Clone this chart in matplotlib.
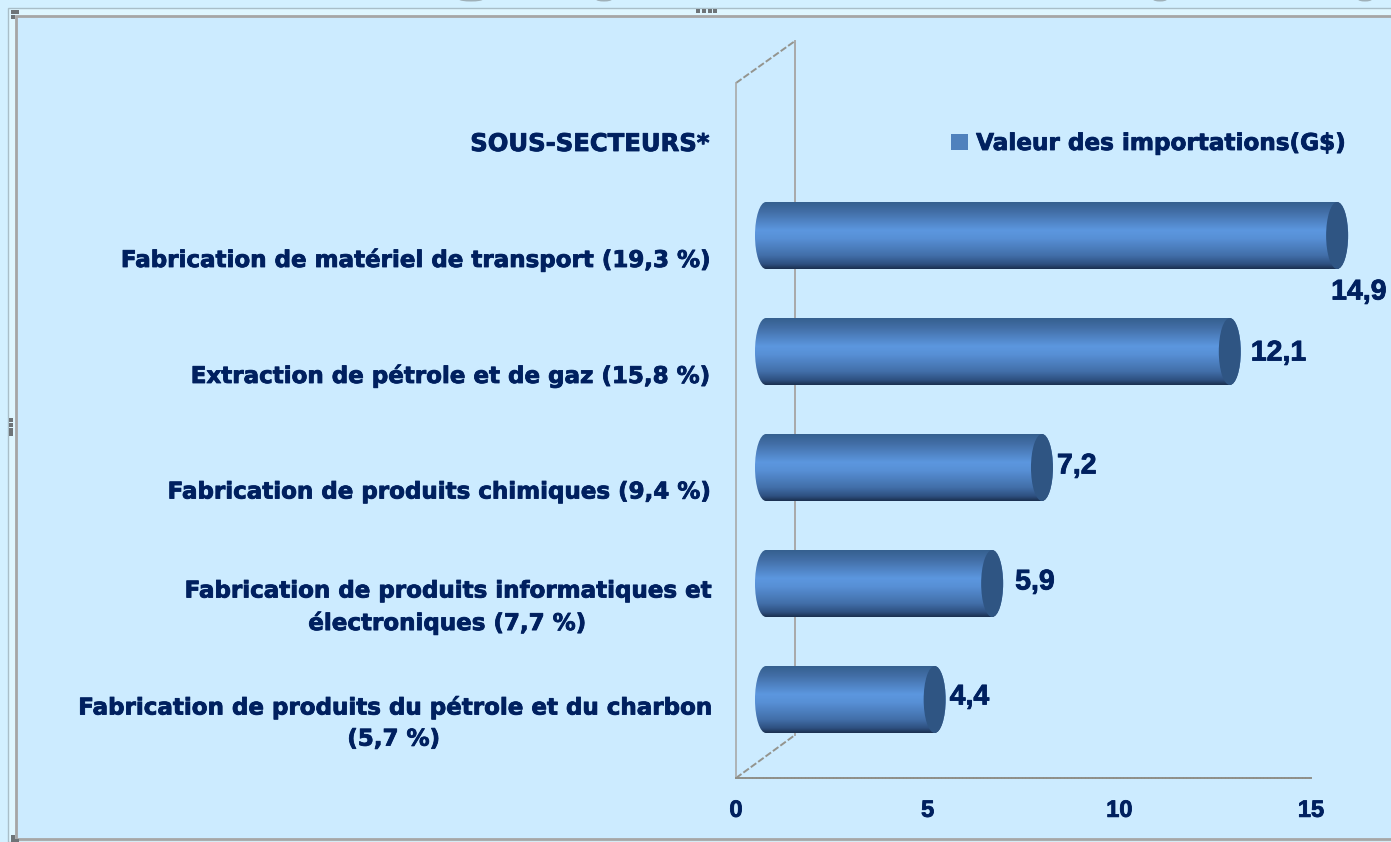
import numpy as np
import matplotlib
matplotlib.use("Agg")
import matplotlib.pyplot as plt
import matplotlib.patheffects as pe
from matplotlib.patches import Ellipse, PathPatch, Rectangle, Patch
from matplotlib.path import Path
from matplotlib.colors import LinearSegmentedColormap
from matplotlib.lines import Line2D
from matplotlib.transforms import ScaledTranslation

categories = ["SOUS-SECTEURS*",
              "Fabrication de matériel de transport (19,3 %)",
              "Extraction de pétrole et de gaz (15,8 %)",
              "Fabrication de produits chimiques (9,4 %)",
              "Fabrication de produits informatiques et\nélectroniques (7,7 %)",
              "Fabrication de produits du pétrole et du charbon\n(5,7 %)"]
values = [None, 14.9, 12.1, 7.2, 5.9, 4.4]
labels = ["", "14,9", "12,1", "7,2", "5,9", "4,4"]
series_name = "Valeur des importations(G$)"
xticks = [0, 5, 10, 15]

# label offsets from the end of each bar, in pixels
label_dx = [0, -6, 21, 15, 23, 15]
label_dy = [0, 57, 2, -1, -1, -2]

W, H = 1391, 842
NAVY = "#00205F"
BG = "#CCEBFF"
GRID = "#A9A9A9"
FONT = "DejaVu Sans"
plt.rcParams["font.family"] = ["Liberation Sans", "DejaVu Sans"]
stroke = [pe.withStroke(linewidth=0.6, foreground=NAVY)]
PX = 72 / 100


def box(l, t, r, b):
    return [l / W, 1 - b / H, (r - l) / W, (b - t) / H]


fig = plt.figure(figsize=(W / 100, H / 100), dpi=100, facecolor="#D3F0FF")

# window chrome, in pixels
bgax = fig.add_axes([0, 0, 1, 1], zorder=1)
bgax.set_xlim(0, W); bgax.set_ylim(H, 0); bgax.axis("off")
bgax.add_patch(Rectangle((8, 7.5), W + 20, 834, fc="#DFF6FF", ec="#A9BEC8", lw=1))
bgax.add_patch(Rectangle((15.5, 15.5), W + 20, 823, fc=BG, ec="#A6A6A6", lw=2))
for cx, cw in [(471, 24), (604, 16), (1160, 14), (1365, 14)]:
    bgax.add_patch(Ellipse((cx, -0.5), cw, 4, fc="#9FB0B8", ec="none"))
for x, y in [(13, 12), (17, 12), (13, 17), (698, 10.5), (704, 10.5), (710, 10.5), (715, 10.5),
             (11, 420), (11, 425), (11, 430), (11, 434), (13, 837), (13, 841), (17, 841)]:
    bgax.plot([x], [y], "s", ms=2.2, color="#6E7478", mew=0)

# back wall + depth edges, in pixels
bgax.add_line(Line2D([795, 795], [41, 735], color=GRID, lw=1.4))
for xs, ys in [([736, 795], [83, 41]), ([736, 795], [778, 735])]:
    bgax.add_line(Line2D(xs, ys, color="#94948E", lw=1.4, ls=(0, (3.5, 1.2))))

# category / value axes: front plane of the 3D box
ax = fig.add_axes(box(736, 83, 1311, 778), zorder=2)
ax.patch.set_alpha(0)
ax.set_xlim(0, 15)
ax.set_ylim((778 - 141.5) / 116, (83 - 141.5) / 116)
ax.set_xticks(xticks)
ax.set_xticklabels([str(t) for t in xticks], fontsize=17, fontweight="bold", color=NAVY,
                   path_effects=stroke)
ax.set_yticks(range(len(categories)))
ax.set_yticklabels(categories, fontsize=16.55, fontweight="bold", color=NAVY, family=FONT,
                   linespacing=1.45, multialignment="center", path_effects=stroke)
ax.get_yticklabels()[0].set_fontsize(17.5)
ax.tick_params(axis="x", length=0, pad=15)
ax.tick_params(axis="y", length=0, pad=19)
for lab in ax.get_yticklabels():
    if "\n" in lab.get_text():
        lab.set_transform(lab.get_transform() + ScaledTranslation(0, 5 / 100, fig.dpi_scale_trans))
for s in ("top", "right"):
    ax.spines[s].set_visible(False)
ax.spines["left"].set_color(GRID)
ax.spines["left"].set_linewidth(1.2)
ax.spines["bottom"].set_color("#8F8F88")
ax.spines["bottom"].set_linewidth(1.4)
ax.spines["bottom"].set_linestyle((0, (1, 0.8)))

# bars layer, same scale shifted by half the depth of the box
bx = fig.add_axes([0, 0, 1, 1], zorder=3)
bx.patch.set_alpha(0)
bx.axis("off")
cmap = LinearSegmentedColormap.from_list(
    "cyl", [(0, "#35608F"), (0.14, "#426EA6"), (0.42, "#5C97DF"), (0.55, "#578FD5"),
            (0.8, "#426FA9"), (0.93, "#2E5080"), (1, "#1B3050")])
grad = np.linspace(0, 1, 128).reshape(-1, 1)
rx = 11 / 38.33
ry = 33.5 / 116
k = 0.5523
for i, v in enumerate(values):
    if v is None:
        continue
    verts = [(0, i - ry), (v, i - ry),
             (v + rx * k, i - ry), (v + rx, i - ry * k), (v + rx, i),
             (v + rx, i + ry * k), (v + rx * k, i + ry), (v, i + ry),
             (0, i + ry),
             (-rx * k, i + ry), (-rx, i + ry * k), (-rx, i),
             (-rx, i - ry * k), (-rx * k, i - ry), (0, i - ry), (0, i - ry)]
    codes = [Path.MOVETO, Path.LINETO, Path.CURVE4, Path.CURVE4, Path.CURVE4,
             Path.CURVE4, Path.CURVE4, Path.CURVE4, Path.LINETO,
             Path.CURVE4, Path.CURVE4, Path.CURVE4, Path.CURVE4, Path.CURVE4, Path.CURVE4,
             Path.CLOSEPOLY]
    patch = PathPatch(Path(verts, codes), fc="none", ec="none", transform=bx.transData)
    bx.add_patch(patch)
    im = bx.imshow(grad, cmap=cmap, aspect="auto", extent=(-rx, v + rx, i + ry, i - ry),
                   interpolation="bilinear", zorder=2)
    im.set_clip_path(patch)
    bx.add_patch(Ellipse((v, i), 2 * rx, 2 * ry, fc="#2F5583", ec="none", zorder=3))
    bx.annotate(labels[i], (v, i), xytext=(label_dx[i] * PX, -label_dy[i] * PX),
                textcoords="offset points", ha="left", va="center", fontsize=20.5,
                fontweight="bold", color=NAVY, zorder=5, annotation_clip=False,
                path_effects=stroke)
bx.set_xlim(-766 / 38.33, (W - 766) / 38.33)
bx.set_ylim((H - 119.5) / 116, -119.5 / 116)

# legend
leg = bx.legend(handles=[Patch(fc="#4F81BD", ec="none", label=series_name)],
                loc="center right", bbox_to_anchor=(1347 / W, 1 - 143.5 / H),
                bbox_transform=fig.transFigure, frameon=False, fontsize=16.65,
                handlelength=0.72, handleheight=0.72, handletextpad=0.35,
                borderpad=0, borderaxespad=0)
for t in leg.get_texts():
    t.set_color(NAVY); t.set_fontweight("bold"); t.set_family(FONT); t.set_path_effects(stroke)

fig.savefig("out.png", dpi=100, facecolor=fig.get_facecolor())
